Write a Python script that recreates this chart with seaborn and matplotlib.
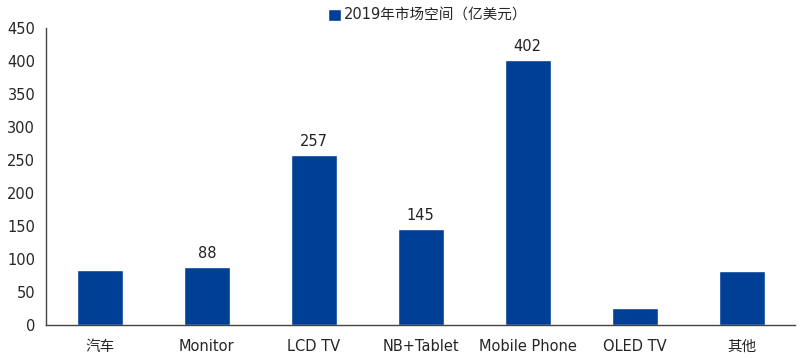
import numpy as np
import pandas as pd
import seaborn as sns
import matplotlib.pyplot as plt
from matplotlib.patches import Patch
from matplotlib.ticker import FixedLocator

categories = ["汽车", "Monitor", "LCD TV", "NB+Tablet", "Mobile Phone", "OLED TV", "其他"]
values = [83, 88, 257, 145, 402, 26, 82]
show_label = [False, True, True, True, True, False, False]
series_name = "2019年市场空间（亿美元）"

df = pd.DataFrame({"cat": categories, "val": values})

sns.set_style("white")
plt.rcParams['font.family'] = ['DejaVu Sans', 'Noto Sans CJK SC']

bar_color = "#003f96"
fig = plt.figure(figsize=(8, 3.58), dpi=100)
ax = fig.add_axes([0.058, 0.092, 0.936, 0.83])
sns.barplot(data=df, x="cat", y="val", color=bar_color, saturation=1, width=0.43, ax=ax)

for i, (v, s) in enumerate(zip(values, show_label)):
    if s:
        ax.text(i, v + 9, str(v), ha="center", va="bottom", fontsize=10.5, color="#222222")

ax.set_ylim(0, 450)
ax.set_xlim(-0.5, len(categories) - 0.5)
ax.set_yticks(np.arange(0, 451, 50))
ax.set_xlabel("")
ax.set_ylabel("")
for side in ["top", "right"]:
    ax.spines[side].set_visible(False)
for side in ["left", "bottom"]:
    ax.spines[side].set_color("#444444")
    ax.spines[side].set_linewidth(1)
ax.tick_params(axis="y", direction="in", length=4, color="#444444", labelsize=10.5, pad=8)
ax.tick_params(axis="x", which="major", length=0, labelsize=10.5, pad=10)
ax.xaxis.set_minor_locator(FixedLocator(np.arange(-0.5, len(categories), 1.0)))
ax.tick_params(axis="x", which="minor", direction="in", length=4, color="#444444")

handles = [Patch(facecolor=bar_color, label=series_name)]
fig.legend(handles=handles, loc="upper center", bbox_to_anchor=(0.535, 1.015), frameon=False,
           fontsize=10.5, handlelength=0.9, handleheight=0.9, handletextpad=0.2)

fig.savefig("out.png", dpi=100)
